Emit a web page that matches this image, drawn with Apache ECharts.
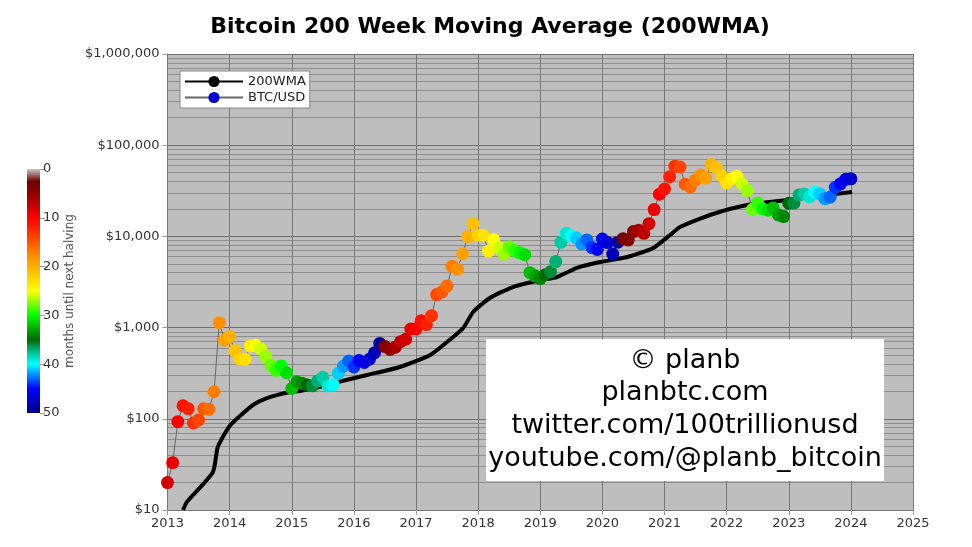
<!DOCTYPE html>
<html>
<head>
<meta charset="utf-8">
<title>Bitcoin 200WMA</title>
<style>html,body{margin:0;padding:0;background:#fff}#main{width:972px;height:547px}</style>
<script src="https://cdn.jsdelivr.net/npm/echarts@6/dist/echarts.min.js"></script>
</head>
<body>
<div id="main"></div>
<script>
// month dates, one per BTC point (decimal year)
var btcYears = [
	2013,2013.083,2013.167,2013.25,2013.333,2013.417,2013.5,2013.583,2013.667,2013.75,2013.833,2013.917,
	2014,2014.083,2014.167,2014.25,2014.333,2014.417,2014.5,2014.583,2014.667,2014.75,2014.833,2014.917,
	2015,2015.083,2015.167,2015.25,2015.333,2015.417,2015.5,2015.583,2015.667,2015.75,2015.833,2015.917,
	2016,2016.083,2016.167,2016.25,2016.333,2016.417,2016.5,2016.583,2016.667,2016.75,2016.833,2016.917,
	2017,2017.083,2017.167,2017.25,2017.333,2017.417,2017.5,2017.583,2017.667,2017.75,2017.833,2017.917,
	2018,2018.083,2018.167,2018.25,2018.333,2018.417,2018.5,2018.583,2018.667,2018.75,2018.833,2018.917,
	2019,2019.083,2019.167,2019.25,2019.333,2019.417,2019.5,2019.583,2019.667,2019.75,2019.833,2019.917,
	2020,2020.083,2020.167,2020.25,2020.333,2020.417,2020.5,2020.583,2020.667,2020.75,2020.833,2020.917,
	2021,2021.083,2021.167,2021.25,2021.333,2021.417,2021.5,2021.583,2021.667,2021.75,2021.833,2021.917,
	2022,2022.083,2022.167,2022.25,2022.333,2022.417,2022.5,2022.583,2022.667,2022.75,2022.833,2022.917,
	2023,2023.083,2023.167,2023.25,2023.333,2023.417,2023.5,2023.583,2023.667,2023.75,2023.833,2023.917,
	2024
];
var btcPrices = [
	20,33,93,139,129,90,97,129,127,198,1130,730,
	800,560,450,450,630,640,585,480,385,340,380,320,
	215,255,245,235,230,260,285,230,236,315,378,430,
	370,435,415,450,530,670,620,575,610,700,745,965,
	970,1190,1080,1350,2300,2450,2850,4700,4350,6450,9950,13800,
	10200,10300,6900,9200,7500,6400,7700,7000,6600,6300,4000,3700,
	3450,3800,4100,5300,8600,10800,10100,9600,8300,9150,7550,7200,
	9350,8550,6400,8650,9450,9150,11300,11650,10800,13800,19700,29000,
	33100,45200,58900,57700,37300,35000,41500,47100,43800,61300,57000,46300,
	38500,43200,45500,37700,31800,19800,23300,20000,19400,20500,17200,16500,
	23100,23100,28500,29200,27200,30500,29200,26000,27000,34500,37700,42300,
	42800
];
// months until next halving, same order as btcPrices
var btcMonths = [
	42,41,40,39,38,37,36,35,34,33,32,31,
	30,29,28,27,26,25,24,23,22,21,20,19,
	18,17,16,15,14,13,12,11,10,9,8,7,
	6,5,4,3,2,1,46,45,44,43,42,41,
	40,39,38,37,36,35,34,33,32,31,30,29,
	28,27,26,25,24,23,22,21,20,19,18,17,
	16,15,14,13,12,11,10,9,8,7,6,5,
	4,3,2,1,47,46,45,44,43,42,41,40,
	39,38,37,36,35,34,33,32,31,30,29,28,
	27,26,25,24,23,22,21,20,19,18,17,16,
	15,14,13,12,11,10,9,8,7,6,5,4,
	3
];
var wmaYears = [2013.25,2013.31,2013.73,2013.81,2014.01,2014.38,2014.6,2014.97,2015.13,2015.46,2015.67,2016.21,2016.74,2017.23,2017.5,2017.76,2017.92,2018.19,2018.56,2019,2019.27,2019.59,2019.96,2020.4,2020.82,2021.09,2021.25,2021.78,2022.33,2022.97,2024.02];
var wmaValues = [10,12.2,26,49,85,142,169,197,202,224,247,302,370,501,695,990,1483,2113,2786,3326,3587,4510,5230,5940,7470,10350,12680,17600,22100,25100,30700];
// colour bar, one colour every 2.5 months from 0 to 50
var barColors = ['#00007f','#0000c8','#0000ff','#0080ff','#00ffff','#00c090','#006a00','#00b000','#00ff00','#80ff00','#ffff00','#ffd800','#ffb000','#ff8800','#ff5800','#ff2800','#ff0000','#c80000','#900000','#700000','#c8c8c8'];
var noteLines = ['© planb','planbtc.com','twitter.com/100trillionusd','youtube.com/@planb_bitcoin'];

var FONT = '"DejaVu Sans"';
var btcData = [];
for(var i = 0; i < btcYears.length; i++){
	btcData.push([btcYears[i], btcPrices[i], btcMonths[i]]);
}
var wmaData = [];
for(var j = 0; j < wmaYears.length; j++){
	wmaData.push([wmaYears[j], wmaValues[j]]);
}
var barStops = [];
for(var k = 0; k < barColors.length; k++){
	barStops.push({offset: k / (barColors.length - 1), color: barColors[k]});
}

var myChart = echarts.init(document.getElementById('main'));
var option = {
	animation: false,
	textStyle: {fontFamily: FONT},
	title: {
		text: 'Bitcoin 200 Week Moving Average (200WMA)',
		left: 485, top: 11, textAlign: 'center',
		textStyle: {fontFamily: FONT, fontSize: 22, fontWeight: 'bold', color: '#000'}
	},
	legend: {
		left: 180, top: 71, orient: 'vertical', itemGap: 3, itemWidth: 58, itemHeight: 14,
		padding: [4, 4, 4, 4],
		backgroundColor: '#fff', borderColor: '#888', borderWidth: 1, borderRadius: 0,
		textStyle: {fontFamily: FONT, fontSize: 13, color: '#222'},
		data: ['200WMA', 'BTC/USD']
	},
	grid: [
		{left: 167.5, right: 59, top: 54, bottom: 37, backgroundColor: '#bebebe', show: true, borderWidth: 0},
		{left: 27, width: 13, top: 169, height: 244}
	],
	xAxis: [
		{type: 'value', min: 2013, max: 2025, interval: 1, gridIndex: 0,
			axisLine: {onZero: false, lineStyle: {color: '#777'}},
			axisTick: {length: 5, lineStyle: {color: '#999'}},
			axisLabel: {fontSize: 13, color: '#333', margin: 7, formatter: function(v){ return String(v); }},
			splitLine: {show: true, lineStyle: {color: '#777', width: 1}}},
		{type: 'category', gridIndex: 1, data: ['m'], show: false}
	],
	yAxis: [
		{type: 'log', logBase: 10, min: 10, max: 1000000, gridIndex: 0,
			axisLine: {show: true, lineStyle: {color: '#777'}},
			axisTick: {length: 5, lineStyle: {color: '#999'}},
			axisLabel: {fontSize: 13, color: '#333', margin: 8, formatter: function(v){ return '$' + Math.round(v).toLocaleString('en-US'); }},
			splitLine: {show: true, lineStyle: {color: '#6e6e6e', width: 1}},
			minorTick: {show: false, splitNumber: 9},
			minorSplitLine: {show: true, lineStyle: {color: '#8e8e8e', width: 1}}},
		{type: 'value', gridIndex: 1, min: 0, max: 50, interval: 10, inverse: true, position: 'right',
			axisLine: {show: false},
			axisTick: {show: true, length: 5, lineStyle: {color: '#999'}},
			axisLabel: {fontSize: 13, color: '#333', margin: 3},
			splitLine: {show: false},
			name: 'months until next halving', nameLocation: 'middle', nameRotate: 90}
	],
	visualMap: {
		show: false, type: 'continuous', seriesIndex: 1, dimension: 2,
		min: 0, max: 50, inRange: {color: barColors}
	},
	series: [
		{name: '200WMA', type: 'line', xAxisIndex: 0, yAxisIndex: 0, data: wmaData,
			showSymbol: false, symbol: 'none', smooth: 0.2, z: 3,
			lineStyle: {color: '#000', width: 4}, itemStyle: {color: '#000'}},
		{name: 'BTC/USD', type: 'line', xAxisIndex: 0, yAxisIndex: 0, data: btcData,
			symbol: 'circle', symbolSize: 13, showSymbol: true, showAllSymbol: true, z: 4,
			encode: {x: 0, y: 1},
			lineStyle: {color: '#666', width: 1}, itemStyle: {color: '#0000d0'}},
		{type: 'bar', xAxisIndex: 1, yAxisIndex: 1, data: [50], barWidth: '100%', silent: true,
			itemStyle: {color: new echarts.graphic.LinearGradient(0, 1, 0, 0, barStops)}}
	],
	graphic: [
		{type: 'rect', z: 100, shape: {x: 486, y: 339, width: 398, height: 142}, style: {fill: '#fff'}},
		{type: 'text', z: 101, x: 685, y: 361, style: {text: noteLines[0], font: '27px ' + FONT, fill: '#000', align: 'center', verticalAlign: 'middle'}},
		{type: 'text', z: 101, x: 685, y: 393, style: {text: noteLines[1], font: '27px ' + FONT, fill: '#000', align: 'center', verticalAlign: 'middle'}},
		{type: 'text', z: 101, x: 685, y: 426, style: {text: noteLines[2], font: '27px ' + FONT, fill: '#000', align: 'center', verticalAlign: 'middle'}},
		{type: 'text', z: 101, x: 685, y: 459, style: {text: noteLines[3], font: '27px ' + FONT, fill: '#000', align: 'center', verticalAlign: 'middle'}}
	]
};
myChart.setOption(option);
</script>
</body>
</html>
